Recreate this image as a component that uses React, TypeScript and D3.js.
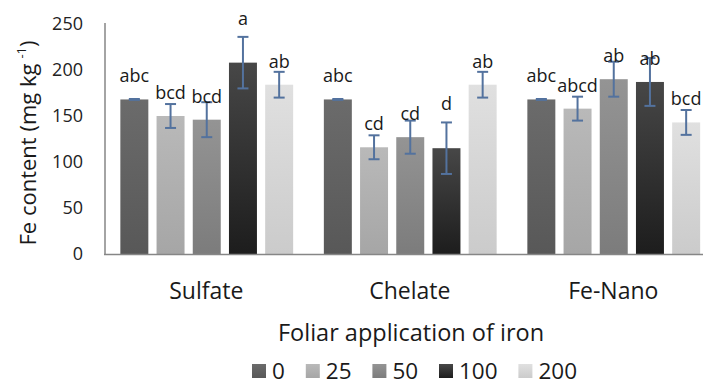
import React from 'react';
import * as d3 from 'd3';

const categories = ['Sulfate', 'Chelate', 'Fe-Nano'];
const doses = ['0', '25', '50', '100', '200'];

const sulfateValues = [168, 150, 146, 208, 184];
const chelateValues = [168, 116, 127, 115, 184];
const nanoValues = [168, 158, 190, 187, 143];

const sulfateErrors = [0.5, 13, 19, 28, 14];
const chelateErrors = [0.5, 13, 18, 28, 14];
const nanoErrors = [0.5, 13, 19, 26, 13.5];

const sulfateLetters = ['abc', 'bcd', 'bcd', 'a', 'ab'];
const chelateLetters = ['abc', 'cd', 'cd', 'd', 'ab'];
const nanoLetters = ['abc', 'abcd', 'ab', 'ab', 'bcd'];

const yTicks = [0, 50, 100, 150, 200, 250];

// top / bottom shades of the gradient fill for each dose
const shadeTop = ['#6b6b6b', '#b9b9b9', '#949494', '#474747', '#e0e0e0'];
const shadeBottom = ['#585858', '#a6a6a6', '#7c7c7c', '#1d1d1d', '#cbcbcb'];

const values = [sulfateValues, chelateValues, nanoValues];
const errors = [sulfateErrors, chelateErrors, nanoErrors];
const letters = [sulfateLetters, chelateLetters, nanoLetters];

const W = 703;
const H = 385;
const font = "'Open Sans', sans-serif";
const errColor = '#53729e';

const App = () => {
  const x0 = d3.scaleBand<string>().domain(categories).range([105, 715.5]).padding(0);
  const x1 = d3
    .scaleBand<string>()
    .domain(doses)
    .range([0, x0.bandwidth()])
    .paddingInner(0.227)
    .paddingOuter(0.424);
  const y = d3.scaleLinear().domain([0, 250]).range([254, 24]);

  // legend: swatch, gap, label, spacing
  const legendWidths = doses.map((d) => 14 + 6 + d.length * 12.8 + 21);
  const legendX = legendWidths.map((_, i) => 252 + d3.sum(legendWidths.slice(0, i)));

  return (
    <svg
      width={W}
      height={H}
      style={{ position: 'absolute', left: 0, top: 0, background: '#fff' }}
      fontFamily={font}
    >
      <defs>
        {doses.map((d, i) => (
          <linearGradient key={d} id={`g${i}`} x1="0" y1="0" x2="0" y2="1">
            <stop offset="0%" stopColor={shadeTop[i]} />
            <stop offset="100%" stopColor={shadeBottom[i]} />
          </linearGradient>
        ))}
      </defs>

      {/* y ticks */}
      {yTicks.map((t) => (
        <text
          key={t}
          x={83}
          y={y(t)}
          dy="0.35em"
          textAnchor="end"
          fontSize={18}
          fill="#222"
        >
          {t}
        </text>
      ))}

      {/* bars, error bars and letters */}
      {categories.map((c, ci) => (
        <g key={c} transform={`translate(${x0(c)},0)`}>
          {doses.map((d, i) => {
            const v = values[ci][i];
            const e = errors[ci][i];
            const bx = x1(d)!;
            const cx = bx + x1.bandwidth() / 2;
            const ly = e >= 27 ? y(v + e) - 12 : y(v) - 17;
            return (
              <g key={d}>
                <rect
                  x={bx}
                  y={y(v)}
                  width={x1.bandwidth()}
                  height={y(0) - y(v)}
                  fill={`url(#g${i})`}
                />
                <line x1={cx} x2={cx} y1={y(v - e)} y2={y(v + e)} stroke={errColor} strokeWidth={2} />
                <line x1={cx - 5.5} x2={cx + 5.5} y1={y(v + e)} y2={y(v + e)} stroke={errColor} strokeWidth={2} />
                <line x1={cx - 5.5} x2={cx + 5.5} y1={y(v - e)} y2={y(v - e)} stroke={errColor} strokeWidth={2} />
                <text x={cx} y={ly} textAnchor="middle" fontSize={18} fill="#1a1a1a">
                  {letters[ci][i]}
                </text>
              </g>
            );
          })}
        </g>
      ))}

      {/* axes */}
      <line x1={105} x2={105} y1={23} y2={254.5} stroke="#868686" strokeWidth={1.5} />
      <line x1={104} x2={W} y1={254.5} y2={254.5} stroke="#868686" strokeWidth={1.5} />

      {/* category labels */}
      {categories.map((c) => (
        <text
          key={c}
          x={x0(c)! + x0.bandwidth() / 2 - 0.5}
          y={299}
          textAnchor="middle"
          fontSize={23}
          fill="#1a1a1a"
        >
          {c}
        </text>
      ))}

      <text x={411} y={341} textAnchor="middle" fontSize={23.5} fill="#1a1a1a">
        Foliar application of iron
      </text>

      <text transform="translate(36,143) rotate(-90)" textAnchor="middle" fontSize={22} fill="#1a1a1a">
        Fe content (mg kg
        <tspan fontSize={13} dx={5} dy={-10}>-1</tspan>
        <tspan dy={10}>)</tspan>
      </text>

      {/* legend */}
      {doses.map((d, i) => (
        <g key={d} transform={`translate(${legendX[i]},0)`}>
          <rect x={0} y={364} width={14} height={14} fill={`url(#g${i})`} />
          <text x={20} y={378.5} fontSize={22.5} fill="#1a1a1a">
            {d}
          </text>
        </g>
      ))}
    </svg>
  );
};

export default App;
